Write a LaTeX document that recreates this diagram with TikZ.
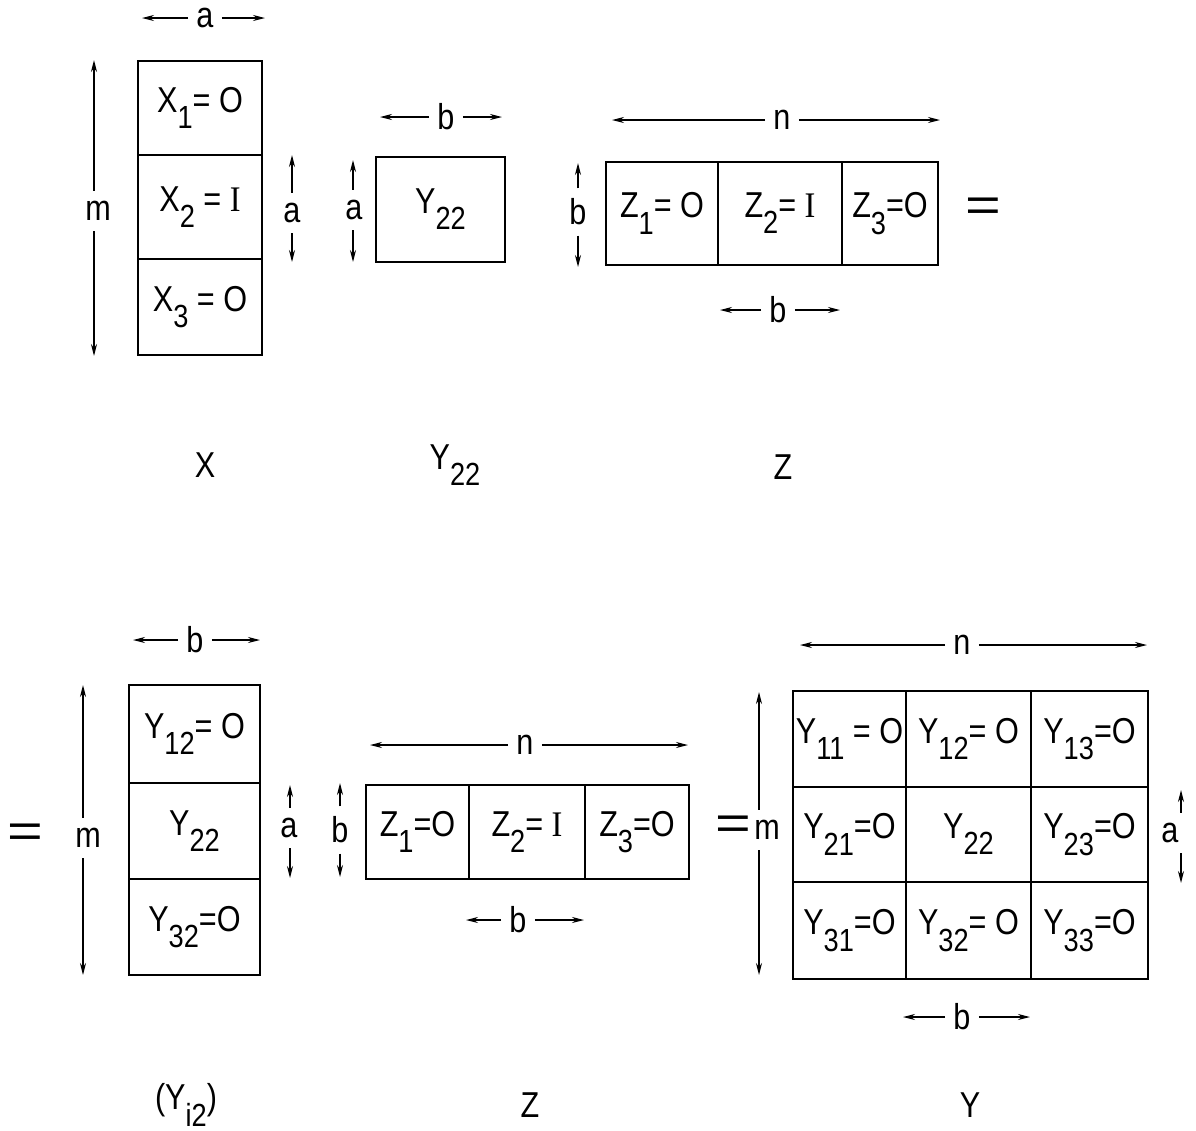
\documentclass[tikz,border=0pt]{standalone}
\usepackage{fontspec}
\setmainfont{Liberation Sans}[FakeStretch=0.85]
\newfontfamily\serifI{Liberation Serif}[FakeStretch=0.9]
\usetikzlibrary{arrows.meta}
\newcommand\lsub[1]{\raisebox{-0.45em}{\fontsize{16}{16}\selectfont #1}}
\newcommand\II{{\serifI I}}
\newcommand\cellnode[6]{\node[cell, minimum width={(#4-#2)*0.5pt}, minimum height={(#5-#3)*0.5pt}] (#1) at ({(#2+#4)/2},{(#3+#5)/2}) {#6};}
% horizontal dimension: name, text, xlabel, y, xleft, xright
\newcommand\hdim[6]{%
  \node[dimlbl] (#1) at (#3,#4) {#2};
  \coordinate (#1-l) at (#5,#4);
  \coordinate (#1-r) at (#6,#4);
  \draw[dimline] (#1) -- (#1-l);
  \draw[dimline] (#1) -- (#1-r);}
% vertical dimension: name, text, xlabel, ylabel, xarrow, ytop, ybottom
\newcommand\vdim[7]{%
  \node[dimlbl, inner ysep=5pt] (#1) at (#3,#4) {#2};
  \coordinate (#1-t) at (#5,#6);
  \coordinate (#1-b) at (#5,#7);
  \draw[dimline] (#1.north -| #1-t) -- (#1-t);
  \draw[dimline] (#1.south -| #1-b) -- (#1-b);}
\begin{document}
\begin{tikzpicture}[x=0.5pt, y=-0.5pt,
  cell/.style={draw, line width=1.2pt, inner sep=0pt, font=\fontsize{18}{18}\selectfont},
  dimlbl/.style={inner xsep=4pt, inner ysep=3pt, font=\fontsize{18}{18}\selectfont},
  dimline/.style={line width=0.7pt, -{Stealth[length=6pt,width=3pt]}},
  captxt/.style={font=\fontsize{18}{18}\selectfont},
  eqsign/.style={font=\fontsize{24}{24}\selectfont, xscale=1.5}]
\useasboundingbox (0,0) rectangle (1196,1131);

% ---------- top row ----------
% X
\cellnode{x1}{138}{61}{262}{155}{X\lsub{1}= O}
\cellnode{x2}{138}{155}{262}{259}{X\lsub{2} = \II}
\cellnode{x3}{138}{259}{262}{355}{X\lsub{3} = O}
\hdim{xa}{a}{205}{18}{142}{265}
\vdim{xm}{m}{98}{211}{94}{60}{356}
\vdim{xa2}{a}{292}{213}{292}{155}{262}

% Y22
\cellnode{y22}{376}{157}{505}{262}{Y\lsub{22}}
\hdim{yb}{b}{446}{117}{380}{502}
\vdim{ya}{a}{354}{210}{353}{160}{262}

% Z
\cellnode{z1}{606}{162}{718}{265}{Z\lsub{1}= O}
\cellnode{z2}{718}{162}{842}{265}{Z\lsub{2}= \II}
\cellnode{z3}{842}{162}{938}{265}{Z\lsub{3}=O}
\hdim{zn}{n}{782}{120}{612}{940}
\vdim{zb}{b}{578}{212}{578}{163}{267}
\hdim{zb2}{b}{778}{310}{720}{840}
\node[eqsign] (eq1) at (983,210) {=};

% captions
\node[captxt] (cx) at (205,465) {X};
\node[captxt] (cy) at (455,465) {Y\lsub{22}};
\node[captxt] (cz) at (783,467) {Z};

% ---------- bottom row ----------
\node[eqsign] (eq2) at (25,836) {=};
\cellnode{yi1}{129}{685}{260}{783}{Y\lsub{12}= O}
\cellnode{yi2}{129}{783}{260}{879}{Y\lsub{22}}
\cellnode{yi3}{129}{879}{260}{975}{Y\lsub{32}=O}
\hdim{yib}{b}{195}{640}{133}{260}
\vdim{yim}{m}{88}{838}{83}{685}{975}
\vdim{yia}{a}{289}{828}{290}{785}{878}
\vdim{yib2}{b}{340}{830}{340}{783}{877}

\cellnode{zz1}{366}{785}{469}{879}{Z\lsub{1}=O}
\cellnode{zz2}{469}{785}{585}{879}{Z\lsub{2}= \II}
\cellnode{zz3}{585}{785}{689}{879}{Z\lsub{3}=O}
\hdim{zzn}{n}{525}{745}{370}{688}
\hdim{zzb}{b}{518}{920}{466}{584}

\node[eqsign] (eq3) at (733,828) {=};
\cellnode{y11}{793}{691}{906}{787}{Y\lsub{11} = O}
\cellnode{y12}{906}{691}{1031}{787}{Y\lsub{12}= O}
\cellnode{y13}{1031}{691}{1148}{787}{Y\lsub{13}=O}
\cellnode{y21}{793}{787}{906}{882}{Y\lsub{21}=O}
\cellnode{y22b}{906}{787}{1031}{882}{Y\lsub{22}}
\cellnode{y23}{1031}{787}{1148}{882}{Y\lsub{23}=O}
\cellnode{y31}{793}{882}{906}{979}{Y\lsub{31}=O}
\cellnode{y32}{906}{882}{1031}{979}{Y\lsub{32}= O}
\cellnode{y33}{1031}{882}{1148}{979}{Y\lsub{33}=O}
\hdim{yn}{n}{962}{645}{800}{1147}
\vdim{ym}{m}{767}{830}{759}{692}{975}
\vdim{ya3}{a}{1170}{833}{1181}{790}{883}
\hdim{yb3}{b}{962}{1017}{903}{1030}

% captions
\node[captxt] (cyi) at (186,1105) {(Y\lsub{i2})};
\node[captxt] (cz2) at (530,1105) {Z};
\node[captxt] (cy2) at (970,1105) {Y};
\end{tikzpicture}
\end{document}
